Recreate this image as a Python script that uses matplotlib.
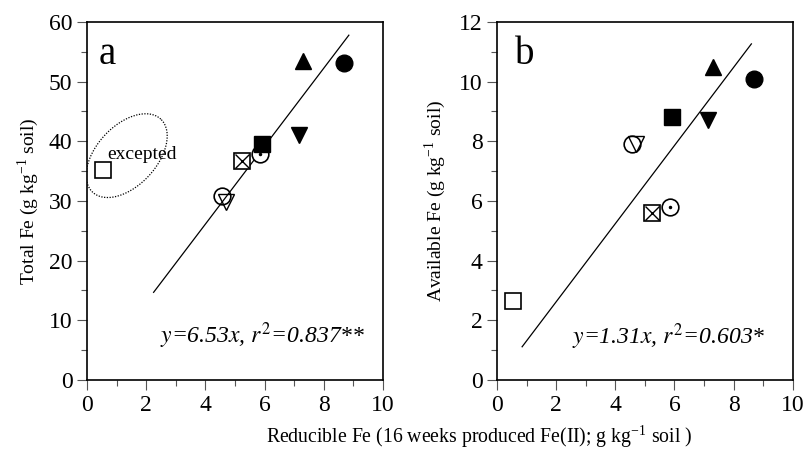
import numpy as np
import matplotlib

matplotlib.use("Agg")
matplotlib.rcParams["font.family"] = ["Liberation Serif", "DejaVu Serif"]
matplotlib.rcParams["mathtext.fontset"] = "stix"

import matplotlib.pyplot as plt

# reducible Fe (16 weeks produced Fe(II)), g/kg soil
reducible_fe = [0.55, 4.55, 4.7, 5.25, 5.85, 5.9, 7.15, 7.3, 8.7]
total_fe = [35.2, 30.8, 29.8, 36.7, 37.8, 39.5, 41.0, 53.5, 53.2]
available_fe = [2.65, 7.9, 7.9, 5.6, 5.8, 8.8, 8.7, 10.5, 10.1]
# marker kind per sample
kinds = ["open_sq", "open_o", "open_v", "cross_sq", "dot_o", "s", "v", "^", "o"]

slope_a, r2_a, fit_range_a = 6.53, 0.837, (2.25, 8.85)
slope_b, r2_b, fit_range_b = 1.31, 0.603, (0.85, 8.6)

fig = plt.figure(figsize=(8.06, 4.49), dpi=100)
ax_a = fig.add_axes([0.108, 0.1537, 0.367, 0.7973])
ax_b = fig.add_axes([0.6166, 0.1537, 0.367, 0.7973])

ms = 11


def draw_points(ax, xs, ys):
    for x, y, k in zip(xs, ys, kinds):
        if k == "open_sq":
            ax.plot(x, y, "s", ms=ms, mfc="white", mec="black", mew=1.2)
        elif k == "open_o":
            ax.plot(x, y, "o", ms=ms + 1, mfc="none", mec="black", mew=1.2)
        elif k == "open_v":
            ax.plot(x, y, "v", ms=ms, mfc="none", mec="black", mew=1.0)
        elif k == "cross_sq":
            ax.plot(x, y, "s", ms=ms, mfc="white", mec="black", mew=1.2)
            ax.plot(x, y, "x", ms=ms - 1, mec="black", mew=1.0)
        elif k == "dot_o":
            ax.plot(x, y, "o", ms=ms + 1, mfc="white", mec="black", mew=1.2)
            ax.plot(x, y, ".", ms=3, color="black")
        else:
            ax.plot(x, y, marker=k, ls="none", ms=ms + 1, color="black")


def style_axis(ax, ymax, ymajor, yminor):
    ax.set_xlim(0, 10)
    ax.set_ylim(0, ymax)
    ax.set_xticks(np.arange(0, 11, 2))
    ax.set_xticks(np.arange(0, 11, 1), minor=True)
    ax.set_yticks(np.arange(0, ymax + 0.1, ymajor))
    ax.set_yticks(np.arange(0, ymax + 0.1, yminor), minor=True)
    ax.tick_params(which="both", direction="out", labelsize=17, width=0.8, color="#555555")
    ax.tick_params(which="major", length=7)
    ax.tick_params(which="minor", length=4)
    for s in ax.spines.values():
        s.set_linewidth(1.2)


# panel a
xs = np.linspace(*fit_range_a, 2)
ax_a.plot(xs, slope_a * xs, color="black", lw=0.9)
draw_points(ax_a, reducible_fe, total_fe)
style_axis(ax_a, 60, 10, 5)
ax_a.text(0.4, 54.5, "a", fontsize=28, va="center")
ax_a.text(0.68, 37.8, "excepted", fontsize=14, va="center")
ax_a.text(2.45, 7.5, "$y$=6.53$x$, $r^2$=0.837**", fontsize=17,
          fontstyle="italic", va="center")

# dotted ellipse around the excepted point (drawn in pixel-like space)
t = np.linspace(0, 2 * np.pi, 200)
a_px, b_px, ang = 50, 30, np.deg2rad(47)
ex = a_px * np.cos(t) * np.cos(ang) - b_px * np.sin(t) * np.sin(ang)
ey = a_px * np.cos(t) * np.sin(ang) + b_px * np.sin(t) * np.cos(ang)
ax_a.plot(1.34 + ex / 29.6, 37.6 + ey / 5.97, ls=(0, (1, 1.2)), color="black", lw=0.9)
ax_a.set_ylabel("Total Fe (g kg$^{\\mathregular{-1}}$ soil)", fontsize=14, labelpad=6)

# panel b
xs = np.linspace(*fit_range_b, 2)
ax_b.plot(xs, slope_b * xs, color="black", lw=0.9)
draw_points(ax_b, reducible_fe, available_fe)
style_axis(ax_b, 12, 2, 1)
ax_b.text(0.6, 10.9, "b", fontsize=28, va="center")
ax_b.text(2.55, 1.45, "$y$=1.31$x$, $r^2$=0.603*", fontsize=17,
          fontstyle="italic", va="center")
ax_b.set_ylabel("Available Fe (g kg$^{\\mathregular{-1}}$ soil)", fontsize=14, labelpad=8)

fig.text(0.594, 0.014, "Reducible Fe (16 weeks produced Fe(II); g kg$^{\\mathregular{-1}}$ soil )",
         fontsize=14.2, ha="center")

fig.savefig("out.png", dpi=100)
